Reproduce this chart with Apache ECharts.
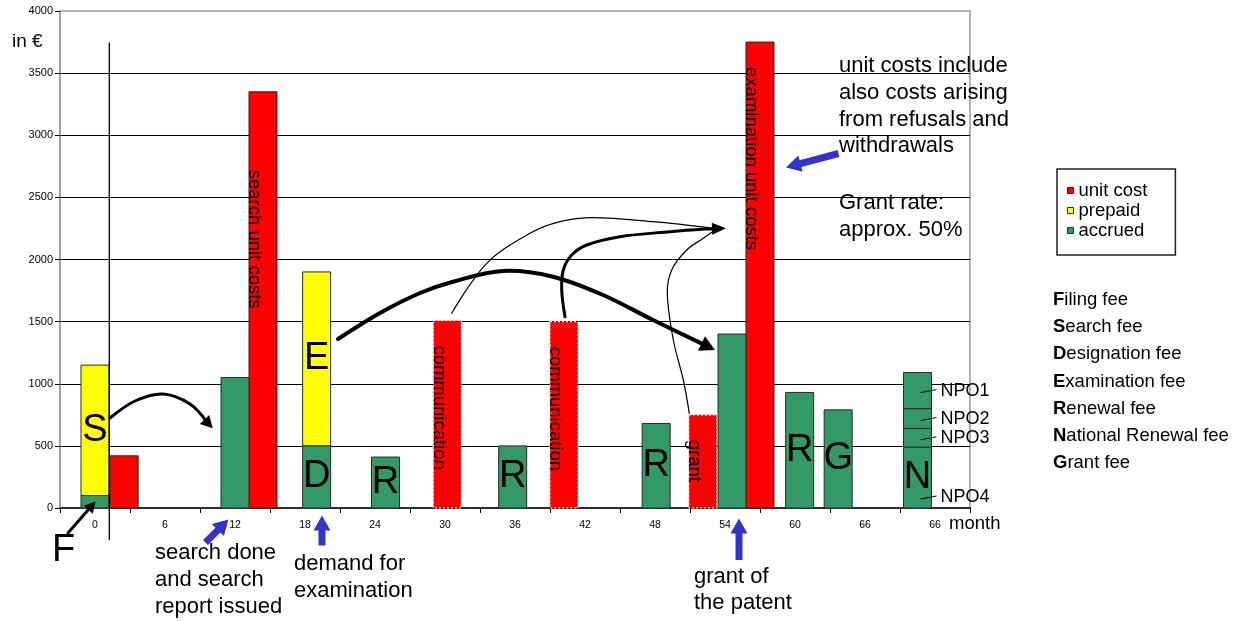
<!DOCTYPE html>
<html>
<head>
<meta charset="utf-8">
<script src="https://cdn.jsdelivr.net/npm/echarts@6/dist/echarts.min.js"></script>
<style>
  html, body { margin: 0; padding: 0; background: #fff; }
  #chart { width: 1248px; height: 621px; }
</style>
</head>
<body>
<div id="chart"></div>
<script>
// Month labels along the time axis
const tickLabels = ['0', '6', '12', '18', '24', '30', '36', '42', '48', '54', '60', '66', '66'];

// Unit costs of the office (red)
const unitCostMonth = [2.5, 14.4, 30.2, 40.2, 52.1, 57.0];
const unitCostValue = [420, 3350, 1510, 1500, 750, 3750];
const unitCostLabel = ['', 'search unit costs', 'communication', 'communication', 'grant', 'examination unit costs'];
const unitCostCertain = [true, true, false, false, false, true];

// Fees accrued (green); entries sharing a month are stacked
const accruedMonth = [0, 12, 19, 24.9, 35.8, 48.1, 54.6, 60.4, 63.7, 70.5, 70.5, 70.5, 70.5];
const accruedValue = [100, 1050, 500, 410, 500, 680, 1400, 930, 790, 490, 150, 160, 290];
const accruedLetter = ['', '', 'D', 'R', 'R', 'R', '', 'R', 'G', 'N', '', '', ''];
const accruedNote = ['', '', '', '', '', '', '', '', '', 'NPO4', 'NPO3', 'NPO2', 'NPO1'];

// Fees prepaid (yellow), sitting on top of the accrued fee of the same month
const prepaidMonth = [0, 19];
const prepaidValue = [1050, 1400];
const prepaidLetter = ['S', 'E'];

// Key of the fee letters
const feeKey = [
  ['F', 'iling fee'], ['S', 'earch fee'], ['D', 'esignation fee'], ['E', 'xamination fee'],
  ['R', 'enewal fee'], ['N', 'ational Renewal fee'], ['G', 'rant fee']
];

const FONT = '"Liberation Sans", Arial, Helvetica, sans-serif';
const BAR_W = 28;
const BORDER = '#2a2a2a';
const font = (size, weight) => (weight ? weight + ' ' : '') + size + 'px ' + FONT;

// stacked rows [month, low, high]
const accruedRows = accruedValue.map((v, i) => {
  let base = 0;
  for (let j = 0; j < i; j++) if (accruedMonth[j] === accruedMonth[i]) base += accruedValue[j];
  return [accruedMonth[i], base, base + v];
});
const prepaidRows = prepaidValue.map((v, i) => {
  let base = 0;
  accruedMonth.forEach((m, j) => { if (m === prepaidMonth[i]) base += accruedValue[j]; });
  return [prepaidMonth[i], base, base + v];
});
const unitCostRows = unitCostValue.map((v, i) => [unitCostMonth[i], 0, v]);

function barBox(api) {
  const m = api.value(0);
  const lo = api.coord([m, api.value(1)]);
  const hi = api.coord([m, api.value(2)]);
  return { x: lo[0] - BAR_W / 2, y: hi[1], w: BAR_W, h: lo[1] - hi[1], cx: lo[0], yLo: lo[1] };
}
function bigLetter(cx, cy, letter) {
  return { type: 'text', x: cx, y: cy, z2: 5,
    style: { text: letter, font: font(38), fill: '#000', align: 'center', verticalAlign: 'middle' } };
}

// distance from the bar top to the start of the written label
const LABEL_GAP = { 'search unit costs': 78 };

const unitCostSeries = {
  type: 'custom', name: 'unit cost', xAxisIndex: 1, yAxisIndex: 0,
  itemStyle: { color: '#ff0000' },
  encode: { x: 0, y: [1, 2] },
  data: unitCostRows,
  renderItem(params, api) {
    const i = params.dataIndex;
    const b = barBox(api);
    const certain = unitCostCertain[i];
    const style = certain
      ? { fill: '#ff0000', stroke: BORDER, lineWidth: 1 }
      : { fill: '#ff0000', stroke: '#f4f4f4', lineWidth: 1.2, lineDash: [2, 2] };
    const children = [{ type: 'rect', shape: { x: b.x, y: b.y, width: b.w, height: b.h }, style }];
    const label = unitCostLabel[i];
    if (label) {
      const gap = LABEL_GAP[label] !== undefined ? LABEL_GAP[label] : 25;
      children.push({ type: 'text', x: b.x + 5.5, y: b.y + gap, rotation: -Math.PI / 2, z2: 5,
        style: { text: label, font: font(18.5), fill: '#000', align: 'left', verticalAlign: 'middle' } });
    }
    return { type: 'group', children };
  }
};

const accruedSeries = {
  type: 'custom', name: 'accrued', xAxisIndex: 1, yAxisIndex: 0,
  itemStyle: { color: '#339966' },
  encode: { x: 0, y: [1, 2] },
  data: accruedRows,
  renderItem(params, api) {
    const i = params.dataIndex;
    const b = barBox(api);
    const children = [{ type: 'rect', shape: { x: b.x, y: b.y, width: b.w, height: b.h },
      style: { fill: '#339966', stroke: BORDER, lineWidth: 1 } }];
    const letter = accruedLetter[i];
    if (letter) children.push(bigLetter(b.cx, b.y + b.h / 2, letter));
    const note = accruedNote[i];
    if (note) {
      const ny = letter ? b.yLo - 11 : b.y + b.h / 2;
      const right = b.x + b.w;
      children.push({ type: 'line', z2: 6, shape: { x1: b.cx + 3, y1: ny + 2, x2: right + 5, y2: ny - 1 },
        style: { stroke: '#000', lineWidth: 1 } });
      children.push({ type: 'text', x: right + 9, y: ny, z2: 6,
        style: { text: note, font: font(18), fill: '#000', align: 'left', verticalAlign: 'middle' } });
    }
    return { type: 'group', children };
  }
};

const prepaidSeries = {
  type: 'custom', name: 'prepaid', xAxisIndex: 1, yAxisIndex: 0,
  itemStyle: { color: '#ffff00' },
  encode: { x: 0, y: [1, 2] },
  data: prepaidRows,
  renderItem(params, api) {
    const i = params.dataIndex;
    const b = barBox(api);
    const children = [{ type: 'rect', shape: { x: b.x, y: b.y, width: b.w, height: b.h },
      style: { fill: '#ffff00', stroke: BORDER, lineWidth: 1 } }];
    const letter = prepaidLetter[i];
    if (letter) children.push(bigLetter(b.cx, b.y + b.h / 2, letter));
    return { type: 'group', children };
  }
};

// ---- annotation helpers ----
function headPoints(tip, from, len, halfW) {
  const dx = tip[0] - from[0], dy = tip[1] - from[1];
  const d = Math.hypot(dx, dy), ux = dx / d, uy = dy / d;
  const bx = tip[0] - ux * len, by = tip[1] - uy * len;
  return { pts: [tip, [bx - uy * halfW, by + ux * halfW], [bx + uy * halfW, by - ux * halfW]],
           base: [tip[0] - ux * len * 0.7, tip[1] - uy * len * 0.7] };
}
function curvedArrow(points, width, head) {
  const tip = points[points.length - 1];
  const prev = points[points.length - 2];
  const els = [];
  let line = points.slice();
  if (head) {
    const h = headPoints(tip, prev, head[0], head[1]);
    line[line.length - 1] = h.base;
    els.push({ type: 'polygon', z: 101, shape: { points: h.pts }, style: { fill: '#000' } });
  }
  els.unshift({ type: 'polyline', z: 100, shape: { points: line, smooth: 0.35 },
    style: { stroke: '#000', lineWidth: width, fill: null, lineCap: 'round', lineJoin: 'round' } });
  return els;
}
function blockArrow(tail, tip, color) {
  const sw = 7, hw = 17, hl = 15;
  const dx = tip[0] - tail[0], dy = tip[1] - tail[1];
  const d = Math.hypot(dx, dy), ux = dx / d, uy = dy / d, nx = -uy, ny = ux;
  const bx = tip[0] - ux * hl, by = tip[1] - uy * hl;
  const pts = [
    [tail[0] + nx * sw / 2, tail[1] + ny * sw / 2],
    [bx + nx * sw / 2, by + ny * sw / 2],
    [bx + nx * hw / 2, by + ny * hw / 2],
    tip,
    [bx - nx * hw / 2, by - ny * hw / 2],
    [bx - nx * sw / 2, by - ny * sw / 2],
    [tail[0] - nx * sw / 2, tail[1] - ny * sw / 2]
  ];
  return { type: 'polygon', z: 100, shape: { points: pts }, style: { fill: color } };
}
// text block positioned from the baseline of its first line
function note(x, baseline, text, size, lineH) {
  const lh = lineH || Math.round(size * 1.21 * 10) / 10;
  return { type: 'text', z: 100, x: x, y: baseline - 0.31 * size - lh / 2,
    style: { text, font: font(size), fill: '#000', align: 'left', verticalAlign: 'top', lineHeight: lh } };
}

const BLUE = '#3333cc';
const graphics = [];
// time-zero line
graphics.push({ type: 'line', z: 100, shape: { x1: 109.3, y1: 42.5, x2: 109.3, y2: 540 },
  style: { stroke: '#000', lineWidth: 1.3 } });
// fee flow arrows
graphics.push(...curvedArrow([[110, 418], [135, 401], [163, 394], [190, 404], [212.7, 428.3]], 3, [12, 6.5]));
graphics.push(...curvedArrow([[338, 339], [380, 313], [420, 293], [453, 281.7], [503, 271], [553, 276.7],
  [603, 295], [653, 320], [715, 350]], 4, [15, 8]));
graphics.push(...curvedArrow([[451.7, 313.3], [486.7, 263.3], [530, 233.3], [560, 221.7], [593, 217.7],
  [653, 221.7], [714, 228.3]], 1.2, null));
graphics.push(...curvedArrow([[689.3, 413.3], [683.3, 380], [673.3, 340], [667.3, 293.3], [671.7, 270],
  [686.7, 250], [703.3, 238.3], [716, 229.3]], 1.2, null));
graphics.push(...curvedArrow([[565, 316.7], [561.7, 290], [563.3, 270], [571.7, 255], [586.7, 245],
  [620, 236.7], [670, 231.7], [705, 229], [726, 228.3]], 3, [14, 6]));
// filing fee arrow
graphics.push(...curvedArrow([[68, 533], [95.5, 501.5]], 3, [11, 6]));
// blue event arrows
graphics.push(blockArrow([205.5, 542.5], [228.5, 519.5], BLUE));
graphics.push(blockArrow([322, 545.5], [322, 515.5], BLUE));
graphics.push(blockArrow([739, 560], [739, 518.5], BLUE));
graphics.push(blockArrow([838.5, 153.5], [786, 167.5], BLUE));
// texts
graphics.push(note(12, 48, 'in €', 19));
graphics.push(note(949, 530, 'month', 18.5));
graphics.push(note(52, 562.7, 'F', 38));
graphics.push(note(155, 560, 'search done\nand search\nreport issued', 22, 26.7));
graphics.push(note(294, 570.7, 'demand for\nexamination', 22, 26.7));
graphics.push(note(694, 583.3, 'grant of\nthe patent', 22, 26.7));
graphics.push(note(839, 72.7, 'unit costs include\nalso costs arising\nfrom refusals and\nwithdrawals', 22, 26.8));
graphics.push(note(839, 210, 'Grant rate:\napprox. 50%', 22, 26.7));
feeKey.forEach((row, i) => {
  const size = 18.5, baseline = 306 + i * 27.05;
  graphics.push({ type: 'text', z: 100, x: 1053, y: baseline - 0.31 * size,
    style: { text: '{b|' + row[0] + '}{n|' + row[1] + '}', align: 'left', verticalAlign: 'middle', fill: '#000',
      rich: { b: { font: font(size, 'bold'), fill: '#000' }, n: { font: font(size), fill: '#000' } } } });
});

const chart = echarts.init(document.getElementById('chart'));
chart.setOption({
  animation: false,
  backgroundColor: '#ffffff',
  textStyle: { fontFamily: FONT },
  grid: { left: 60, right: 278, top: 11, bottom: 113, containLabel: false,
    show: true, borderColor: '#9a9a9a', borderWidth: 1.5, backgroundColor: 'transparent' },
  legend: {
    left: 1057, top: 169, orient: 'vertical', selectedMode: false,
    data: ['unit cost', 'prepaid', 'accrued'],
    icon: 'rect', itemWidth: 6, itemHeight: 6, itemGap: 1,
    itemStyle: { borderColor: BORDER, borderWidth: 1 },
    padding: [12, 28, 15, 10],
    borderColor: '#222', borderWidth: 1.5, backgroundColor: '#fff',
    textStyle: { fontFamily: FONT, fontSize: 18.5, color: '#000', lineHeight: 18.5 }
  },
  xAxis: [
    {
      type: 'category', data: tickLabels, boundaryGap: true, position: 'bottom',
      axisLine: { show: true, onZero: false, lineStyle: { color: '#000', width: 1.5 } },
      axisTick: { show: true, length: 5, alignWithLabel: false, lineStyle: { color: '#000', width: 1 } },
      axisLabel: { interval: 0, fontSize: 10.5, color: '#000', margin: 12, fontFamily: FONT },
      splitLine: { show: false }
    },
    { type: 'value', min: -3, max: 75, show: false }
  ],
  yAxis: {
    type: 'value', min: 0, max: 4000, interval: 500,
    axisLine: { show: true, onZero: false, lineStyle: { color: '#9a9a9a', width: 1.5 } },
    axisTick: { show: true, length: 5, lineStyle: { color: '#000', width: 1 } },
    axisLabel: { fontSize: 11, color: '#000', margin: 7, fontFamily: FONT, formatter: v => String(v) },
    splitLine: { show: true, showMinLine: false, showMaxLine: false, lineStyle: { color: '#000', width: 1 } }
  },
  series: [unitCostSeries, prepaidSeries, accruedSeries],
  graphic: { elements: graphics }
});
</script>
</body>
</html>
